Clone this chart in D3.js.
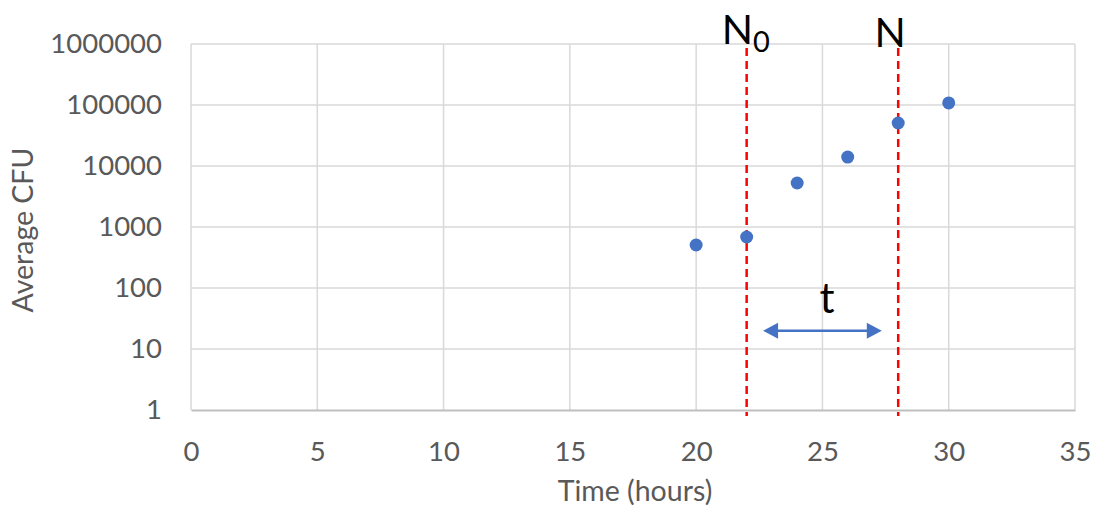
<!DOCTYPE html>
<html><head><meta charset="utf-8">
<script src="https://cdn.jsdelivr.net/npm/d3@7"></script>
<style>body{margin:0;background:#fff;} text{font-family:Lato,"Open Sans",sans-serif;}</style>
</head><body><svg id="c" width="1096" height="508"></svg>
<script>
const times = [20, 22, 24, 26, 28, 30];
const cfu = [507, 686, 5260, 14000, 50700, 108000];
const xTicks = [0, 5, 10, 15, 20, 25, 30, 35];
const yTicks = [1, 10, 100, 1000, 10000, 100000, 1000000];
const markerTimes = [22, 28];
const arrowSpan = [22.65, 27.35];
const arrowLevel = [20];

const svg = d3.select("#c");
const x = d3.scaleLinear().domain([0, 35]).range([191, 1075]);
const y = d3.scaleLog().domain([1, 1e6]).range([410, 44]);
const grid = "#d9d9d9", txt = "#595959";

// gridlines
svg.append("g").selectAll("line").data(yTicks.slice(1)).join("line")
  .attr("x1", x(0)).attr("x2", x(35)).attr("y1", d => y(d)).attr("y2", d => y(d))
  .attr("stroke", grid).attr("stroke-width", 1.5);
svg.append("g").selectAll("line").data(xTicks).join("line")
  .attr("x1", d => x(d)).attr("x2", d => x(d)).attr("y1", y(1e6)).attr("y2", y(1))
  .attr("stroke", grid).attr("stroke-width", 1.5);
// bottom axis
const xAxis = d3.axisBottom(x).tickValues(xTicks).tickSize(0).tickPadding(31).tickFormat(d3.format("d"));
const gx = svg.append("g").attr("transform", `translate(0,${y(1)})`).call(xAxis);
gx.select(".domain").attr("stroke", "#bfbfbf").attr("stroke-width", 2);
gx.selectAll("text").attr("fill", txt).style("font-size", "27.5px");
const yAxis = d3.axisLeft(y).tickValues(yTicks).tickSize(0).tickPadding(29).tickFormat(d3.format("d"));
const gy = svg.append("g").attr("transform", `translate(${x(0)},0)`).call(yAxis);
gy.select(".domain").remove();
gy.selectAll("text").attr("fill", txt).style("font-size", "27.5px");

// axis titles
svg.append("text").attr("x", 635).attr("y", 501).attr("text-anchor", "middle")
  .attr("fill", txt).style("font-size", "28.5px").text("Time (hours)");
svg.append("text").attr("transform", "translate(33,230) rotate(-90)").attr("text-anchor", "middle")
  .attr("fill", txt).style("font-size", "28.5px").text("Average CFU");

// dashed markers
svg.append("g").selectAll("line").data(markerTimes).join("line")
  .attr("x1", d => x(d)).attr("x2", d => x(d)).attr("y1", 48).attr("y2", 416)
  .attr("stroke", "#ff0000").attr("stroke-width", 2.5).attr("stroke-dasharray", "8,5");

// points
svg.append("g").selectAll("circle").data(times).join("circle")
  .attr("cx", d => x(d)).attr("cy", (d, i) => y(cfu[i])).attr("r", 6.5).attr("fill", "#4472c4");

// labels N0 and N
const l0 = svg.append("text").attr("x", x(22) - 25).attr("y", 44).attr("fill", "#000").style("font-size", "41px");
l0.append("tspan").text("N");
l0.append("tspan").attr("dy", 8).style("font-size", "29px").text("0");
svg.append("text").attr("x", x(28) - 8).attr("y", 47).attr("text-anchor", "middle").attr("fill", "#000").style("font-size", "41px").text("N");

// arrow
const ay = y(arrowLevel[0]);
const ax1 = x(arrowSpan[0]), ax2 = x(arrowSpan[1]);
svg.append("line").attr("x1", ax1 + 10).attr("x2", ax2 - 10).attr("y1", ay).attr("y2", ay)
  .attr("stroke", "#4472c4").attr("stroke-width", 2.5);
svg.append("path").attr("d", `M${ax1},${ay}L${ax1+15},${ay-8}L${ax1+15},${ay+8}Z`).attr("fill", "#4472c4");
svg.append("path").attr("d", `M${ax2},${ay}L${ax2-15},${ay-8}L${ax2-15},${ay+8}Z`).attr("fill", "#4472c4");
svg.append("text").attr("x", 827).attr("y", 313).attr("text-anchor", "middle")
  .attr("fill", "#000").style("font-size", "42px").text("t");
</script></body></html>
